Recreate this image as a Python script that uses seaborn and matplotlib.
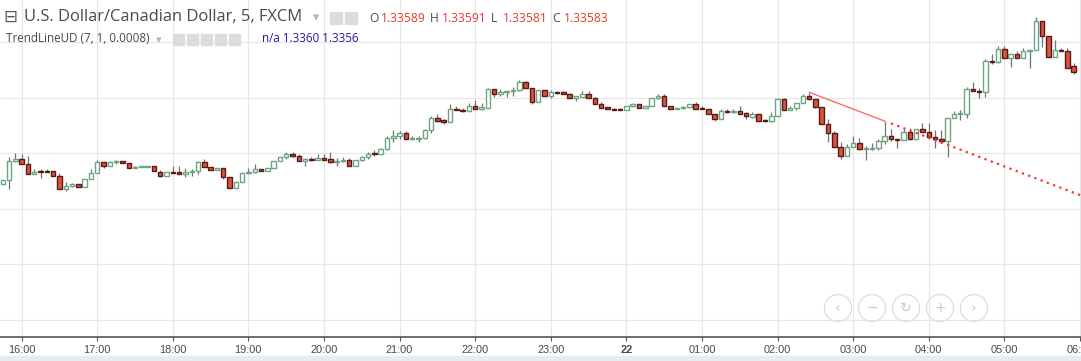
import matplotlib
matplotlib.use("Agg")
import matplotlib.pyplot as plt
from matplotlib.patches import Rectangle, Circle
import seaborn as sns
import pandas as pd
import numpy as np

# USD/CAD 5 min candles, 15:45 -> 05:55
opens = [1.33482, 1.33486, 1.33503, 1.33505, 1.33500, 1.33491, 1.33494, 1.33494, 1.33494, 1.33490,
         1.33478, 1.33481, 1.33482, 1.33480, 1.33487, 1.33492, 1.33502, 1.33499, 1.33502, 1.33503,
         1.33501, 1.33497, 1.33498, 1.33498, 1.33499, 1.33493, 1.33490, 1.33493, 1.33493, 1.33491,
         1.33493, 1.33494, 1.33502, 1.33498, 1.33495, 1.33497, 1.33489, 1.33479, 1.33484, 1.33492,
         1.33493, 1.33496, 1.33494, 1.33497, 1.33503, 1.33507, 1.33509, 1.33508, 1.33503, 1.33505,
         1.33504, 1.33506, 1.33505, 1.33502, 1.33503, 1.33504, 1.33499, 1.33504, 1.33507, 1.33510,
         1.33509, 1.33514, 1.33524, 1.33526, 1.33528, 1.33523, 1.33523, 1.33524, 1.33531, 1.33542,
         1.33540, 1.33538, 1.33550, 1.33549, 1.33548, 1.33553, 1.33550, 1.33551, 1.33568, 1.33563,
         1.33565, 1.33566, 1.33567, 1.33574, 1.33569, 1.33556, 1.33567, 1.33562, 1.33565, 1.33565,
         1.33563, 1.33560, 1.33561, 1.33563, 1.33560, 1.33554, 1.33552, 1.33550, 1.33550, 1.33549,
         1.33553, 1.33554, 1.33551, 1.33553, 1.33560, 1.33562, 1.33553, 1.33550, 1.33551, 1.33552,
         1.33554, 1.33551, 1.33550, 1.33545, 1.33541, 1.33548, 1.33547, 1.33548, 1.33546, 1.33543,
         1.33545, 1.33540, 1.33539, 1.33544, 1.33559, 1.33549, 1.33551, 1.33555, 1.33562, 1.33559,
         1.33552, 1.33536, 1.33528, 1.33516, 1.33508, 1.33516, 1.33519, 1.33514, 1.33514, 1.33515,
         1.33521, 1.33526, 1.33523, 1.33522, 1.33529, 1.33523, 1.33532, 1.33529, 1.33525, 1.33523,
         1.33521, 1.33542, 1.33545, 1.33545, 1.33568, 1.33566, 1.33565, 1.33593, 1.33592, 1.33604,
         1.33596, 1.33599, 1.33596, 1.33602, 1.33603, 1.33629, 1.33616, 1.33597, 1.33603, 1.33602,
         1.33589]
highs = [1.33486, 1.33507, 1.33510, 1.33509, 1.33508, 1.33496, 1.33496, 1.33496, 1.33494, 1.33492,
         1.33484, 1.33483, 1.33482, 1.33487, 1.33496, 1.33504, 1.33502, 1.33503, 1.33504, 1.33503,
         1.33501, 1.33499, 1.33499, 1.33499, 1.33499, 1.33495, 1.33493, 1.33499, 1.33499, 1.33497,
         1.33496, 1.33503, 1.33505, 1.33498, 1.33497, 1.33497, 1.33489, 1.33485, 1.33493, 1.33497,
         1.33500, 1.33496, 1.33497, 1.33503, 1.33507, 1.33511, 1.33511, 1.33509, 1.33506, 1.33507,
         1.33509, 1.33509, 1.33511, 1.33506, 1.33507, 1.33506, 1.33504, 1.33508, 1.33511, 1.33513,
         1.33515, 1.33526, 1.33531, 1.33530, 1.33530, 1.33526, 1.33526, 1.33532, 1.33544, 1.33545,
         1.33541, 1.33554, 1.33553, 1.33551, 1.33555, 1.33558, 1.33555, 1.33569, 1.33568, 1.33568,
         1.33566, 1.33570, 1.33576, 1.33575, 1.33569, 1.33567, 1.33567, 1.33567, 1.33566, 1.33566,
         1.33564, 1.33562, 1.33566, 1.33566, 1.33561, 1.33556, 1.33552, 1.33551, 1.33551, 1.33553,
         1.33555, 1.33554, 1.33553, 1.33560, 1.33563, 1.33563, 1.33553, 1.33551, 1.33553, 1.33554,
         1.33556, 1.33553, 1.33550, 1.33545, 1.33550, 1.33550, 1.33550, 1.33553, 1.33547, 1.33547,
         1.33545, 1.33541, 1.33547, 1.33560, 1.33560, 1.33553, 1.33555, 1.33563, 1.33564, 1.33559,
         1.33552, 1.33541, 1.33530, 1.33520, 1.33518, 1.33526, 1.33524, 1.33517, 1.33519, 1.33523,
         1.33539, 1.33532, 1.33523, 1.33532, 1.33533, 1.33532, 1.33537, 1.33537, 1.33531, 1.33531,
         1.33542, 1.33548, 1.33549, 1.33570, 1.33574, 1.33569, 1.33595, 1.33599, 1.33607, 1.33607,
         1.33599, 1.33602, 1.33605, 1.33603, 1.33633, 1.33629, 1.33616, 1.33612, 1.33605, 1.33605,
         1.33591]
lows = [1.33482, 1.33478, 1.33502, 1.33500, 1.33491, 1.33491, 1.33488, 1.33493, 1.33490, 1.33478,
        1.33476, 1.33480, 1.33480, 1.33480, 1.33487, 1.33492, 1.33497, 1.33499, 1.33500, 1.33501,
        1.33497, 1.33497, 1.33498, 1.33498, 1.33494, 1.33489, 1.33490, 1.33492, 1.33491, 1.33489,
        1.33490, 1.33491, 1.33498, 1.33495, 1.33495, 1.33487, 1.33479, 1.33479, 1.33484, 1.33491,
        1.33492, 1.33494, 1.33494, 1.33497, 1.33503, 1.33505, 1.33507, 1.33503, 1.33499, 1.33503,
        1.33504, 1.33504, 1.33501, 1.33499, 1.33502, 1.33499, 1.33499, 1.33503, 1.33505, 1.33508,
        1.33509, 1.33513, 1.33520, 1.33523, 1.33523, 1.33522, 1.33520, 1.33523, 1.33528, 1.33538,
        1.33536, 1.33538, 1.33549, 1.33547, 1.33548, 1.33550, 1.33549, 1.33551, 1.33561, 1.33562,
        1.33561, 1.33562, 1.33566, 1.33569, 1.33554, 1.33556, 1.33562, 1.33560, 1.33563, 1.33563,
        1.33560, 1.33557, 1.33561, 1.33560, 1.33554, 1.33551, 1.33550, 1.33549, 1.33549, 1.33549,
        1.33552, 1.33551, 1.33551, 1.33553, 1.33559, 1.33553, 1.33550, 1.33550, 1.33550, 1.33551,
        1.33550, 1.33550, 1.33545, 1.33539, 1.33541, 1.33546, 1.33546, 1.33545, 1.33541, 1.33542,
        1.33539, 1.33538, 1.33538, 1.33544, 1.33549, 1.33549, 1.33549, 1.33555, 1.33558, 1.33551,
        1.33536, 1.33520, 1.33516, 1.33505, 1.33508, 1.33516, 1.33513, 1.33504, 1.33513, 1.33513,
        1.33518, 1.33521, 1.33515, 1.33522, 1.33522, 1.33522, 1.33529, 1.33523, 1.33515, 1.33519,
        1.33507, 1.33542, 1.33540, 1.33542, 1.33566, 1.33560, 1.33561, 1.33590, 1.33591, 1.33596,
        1.33588, 1.33596, 1.33596, 1.33587, 1.33603, 1.33606, 1.33597, 1.33597, 1.33602, 1.33587,
        1.33581]
closes = [1.33486, 1.33503, 1.33505, 1.33500, 1.33491, 1.33493, 1.33493, 1.33493, 1.33490, 1.33478,
          1.33481, 1.33482, 1.33480, 1.33487, 1.33492, 1.33502, 1.33499, 1.33502, 1.33503, 1.33501,
          1.33497, 1.33498, 1.33499, 1.33499, 1.33494, 1.33490, 1.33493, 1.33492, 1.33491, 1.33493,
          1.33494, 1.33502, 1.33498, 1.33495, 1.33497, 1.33489, 1.33479, 1.33484, 1.33492, 1.33493,
          1.33496, 1.33494, 1.33497, 1.33503, 1.33507, 1.33509, 1.33508, 1.33503, 1.33505, 1.33504,
          1.33506, 1.33504, 1.33502, 1.33503, 1.33504, 1.33499, 1.33504, 1.33507, 1.33509, 1.33509,
          1.33514, 1.33524, 1.33526, 1.33528, 1.33523, 1.33524, 1.33524, 1.33531, 1.33542, 1.33539,
          1.33538, 1.33550, 1.33549, 1.33548, 1.33553, 1.33550, 1.33552, 1.33568, 1.33563, 1.33565,
          1.33566, 1.33567, 1.33574, 1.33569, 1.33556, 1.33567, 1.33562, 1.33565, 1.33564, 1.33563,
          1.33560, 1.33562, 1.33563, 1.33560, 1.33554, 1.33551, 1.33550, 1.33549, 1.33549, 1.33553,
          1.33554, 1.33551, 1.33553, 1.33560, 1.33562, 1.33553, 1.33550, 1.33551, 1.33552, 1.33554,
          1.33550, 1.33550, 1.33545, 1.33541, 1.33548, 1.33547, 1.33548, 1.33545, 1.33544, 1.33545,
          1.33539, 1.33539, 1.33544, 1.33559, 1.33549, 1.33551, 1.33555, 1.33562, 1.33559, 1.33552,
          1.33536, 1.33528, 1.33516, 1.33508, 1.33516, 1.33519, 1.33514, 1.33515, 1.33515, 1.33521,
          1.33526, 1.33523, 1.33522, 1.33529, 1.33523, 1.33532, 1.33529, 1.33525, 1.33523, 1.33521,
          1.33542, 1.33545, 1.33546, 1.33568, 1.33566, 1.33565, 1.33593, 1.33592, 1.33604, 1.33596,
          1.33599, 1.33596, 1.33602, 1.33603, 1.33629, 1.33616, 1.33597, 1.33603, 1.33602, 1.33587,
          1.33583]

# TrendLineUD: solid segment + projected (dotted) part
trend_idx = [128, 140]
trend_val = [1.33565, 1.33539]
proj_idx = [141, 171.2]
proj_val = [1.33537, 1.33472]

times = pd.date_range("2017-02-21 15:45", periods=len(closes), freq="5min")
df = pd.DataFrame({"time": times, "open": opens, "high": highs, "low": lows, "close": closes})
df["n"] = np.arange(len(df))
df["up"] = df["close"] >= df["open"]

sns.set_theme(style="white")
plt.rcParams["font.family"] = ["Liberation Sans", "DejaVu Sans"]

W, H = 1081, 361
fig = plt.figure(figsize=(W / 100, H / 100), dpi=100)
ax = fig.add_axes([0, 24 / H, 1, 337 / H])

def px(x, y):
    return (x / 100, (H - y) / 100)

# wicks
ax.vlines(df["n"], df["low"], df["high"], color="#737375", lw=0.9, zorder=2)
# bodies
body_lo = np.minimum(df["open"], df["close"])
body_h = np.maximum(np.abs(df["close"] - df["open"]), 0.000004)
up = df["up"].values
ax.bar(df["n"][up], body_h[up], bottom=body_lo[up], width=0.7, color="white",
       edgecolor="#6ba583", linewidth=1.0, zorder=3)
ax.bar(df["n"][~up], body_h[~up], bottom=body_lo[~up], width=0.7, color="#d75442",
       edgecolor="#5b1a13", linewidth=1.0, zorder=3)

# trend line
sns.lineplot(x=trend_idx, y=trend_val, ax=ax, color="#ff6b6b", lw=1.0, zorder=4)
ax.plot(proj_idx, proj_val, color="#ff3030", lw=1.6, linestyle=(0, (1, 2.0)), zorder=4)

ax.set_xlim(-0.43, 171.16)
ax.set_ylim(1.333447, 1.33648)
ax.set_yticks(np.arange(1.3336, 1.33615, 0.0005))
ax.set_yticklabels([])
ax.tick_params(axis="y", length=0)

hour_pos = list(range(3, 172, 12))
labels = []
for k, p in enumerate(hour_pos):
    hh = (16 + k) % 24
    labels.append("22" if hh == 0 else f"{hh:02d}:00")
ax.set_xticks(hour_pos)
ax.set_xticklabels(labels, fontsize=7.9, color="#4a4a4a")
for t in ax.get_xticklabels():
    if t.get_text() == "22":
        t.set_fontweight("bold")
ax.tick_params(axis="x", direction="out", length=3, width=0.8, color="#555555", pad=2.5, bottom=True)

ax.grid(True, color="#e6e6e6", lw=0.8)
ax.set_axisbelow(True)
for s in ["top", "right", "left"]:
    ax.spines[s].set_visible(False)
ax.spines["bottom"].set_color("#555555")
ax.spines["bottom"].set_linewidth(1.2)

# bottom strip
fig.patches.append(Rectangle(px(0, H), W / 100, 5 / 100, transform=fig.dpi_scale_trans,
                             color="#e8ebef", zorder=0))

# legend header
tr = fig.dpi_scale_trans
fig.text(*px(10, 17), "\u229f", transform=tr, fontsize=12, color="#555555", ha="center", va="center",
         family=["DejaVu Sans"])
fig.text(*px(24, 17), "U.S. Dollar/Canadian Dollar, 5, FXCM", transform=tr, fontsize=11.9,
         color="#4a4a4a", va="center", family=["Open Sans", "DejaVu Sans"])
fig.text(*px(316, 18), "\u25be", transform=tr, fontsize=9, color="#b5b5b5", ha="center", va="center",
         family=["DejaVu Sans"])
for x0 in [330, 345]:
    fig.patches.append(Rectangle(px(x0, 24), 12 / 100, 12 / 100, transform=tr, color="#dcdcdc"))
x = 369
for lab, val in [("O", "1.33589"), ("H", "1.33591"), ("L", "1.33581"), ("C", "1.33583")]:
    fig.text(*px(x, 18), lab, transform=tr, fontsize=8.7, color="#4a4a4a", va="center",
             family=["Open Sans", "DejaVu Sans"])
    fig.text(*px(x + 12, 18), val, transform=tr, fontsize=8.7, color="#e8392b", va="center",
             family=["Open Sans", "DejaVu Sans"])
    x += 61

fig.text(*px(6, 39), "TrendLineUD (7, 1, 0.0008)", transform=tr, fontsize=8.4, color="#4a4a4a",
         va="center", family=["Open Sans", "DejaVu Sans"])
fig.text(*px(159, 40), "\u25be", transform=tr, fontsize=8, color="#b5b5b5", ha="center", va="center",
         family=["DejaVu Sans"])
for x0 in [173, 187, 201, 215, 229]:
    fig.patches.append(Rectangle(px(x0, 45), 11 / 100, 11 / 100, transform=tr, color="#dcdcdc"))
fig.text(*px(262, 39), "n/a 1.3360 1.3356", transform=tr, fontsize=8.4, color="#2b1b91",
         va="center", family=["Open Sans", "DejaVu Sans"])

# zoom / scroll buttons
for cx, sym in zip([838, 872, 906, 940, 974], ["\u2039", "\u2212", "\u21bb", "+", "\u203a"]):
    fig.patches.append(Circle(px(cx, 308), 13.5 / 100, transform=tr, fc="none", ec="#e0e0e0", lw=1))
    fig.text(*px(cx, 308), sym, transform=tr, fontsize=10, color="#c8c8c8", ha="center",
             va="center", family=["DejaVu Sans"])

fig.savefig("out.png", dpi=100)
